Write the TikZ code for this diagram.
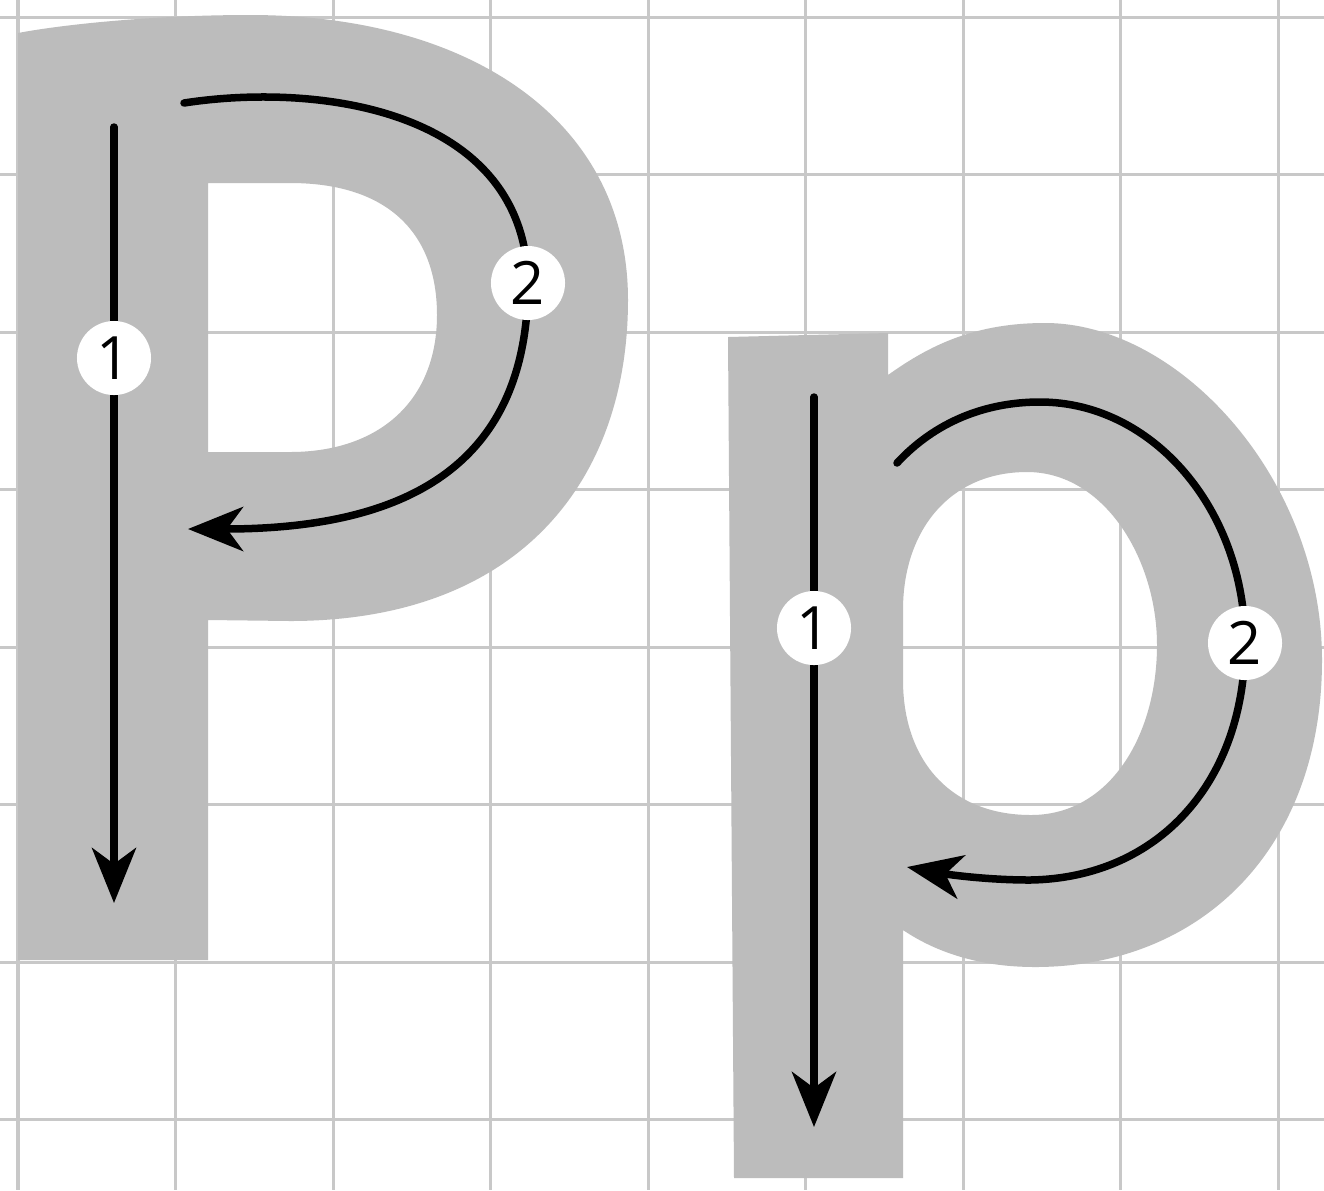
\documentclass[tikz,border=0pt]{standalone}
\usepackage{fontspec}
\setsansfont{Open Sans}
\usetikzlibrary{arrows.meta}
\definecolor{gridc}{RGB}{200,200,200}
\definecolor{letterc}{RGB}{188,188,188}
\begin{document}
\begin{tikzpicture}[x=0.01cm,y=-0.01cm,
  gridline/.style={draw=gridc,line width=0.03cm},
  letter/.style={fill=letterc,even odd rule},
  guide/.style={line width=0.075cm,line cap=round,-{Stealth[length=0.55cm,width=0.44cm,inset=0.16cm]}},
  num/.style={circle,fill=white,minimum size=0.74cm,inner sep=0pt,font=\sffamily\fontsize{17}{17}\selectfont}]
\useasboundingbox (0,0) rectangle (1324,1190);
\fill[white] (0,0) rectangle (1324,1190);
\foreach \i in {0,...,8} \draw[gridline] ({18+157.5*\i},0) -- ({18+157.5*\i},1190);
\foreach \j in {0,...,7} \draw[gridline] (0,{17+157.5*\j}) -- (1324,{17+157.5*\j});
% capital P
\fill[letter] (18,960) -- (18,33) .. controls (60,25) and (150,15) .. (250,15)
  .. controls (470,15) and (628,120) .. (628,300)
  .. controls (628,480) and (520,621) .. (290,621) -- (208,620) -- (208,960) -- cycle
  (208,183) -- (290,183) .. controls (390,183) and (437,235) .. (437,315)
  .. controls (437,400) and (380,452) .. (290,452) -- (208,452) -- cycle;
% small p
\fill[letter] (734,1178) -- (728,337) -- (888,333) -- (888,375)
  .. controls (930,345) and (975,323) .. (1045,323)
  .. controls (1180,323) and (1322,480) .. (1322,660)
  .. controls (1322,850) and (1200,967) .. (1035,967)
  .. controls (985,967) and (940,955) .. (903,930) -- (903,1178) -- cycle
  (1027,472) .. controls (1105,472) and (1157,560) .. (1157,645)
  .. controls (1157,735) and (1110,815) .. (1031,815)
  .. controls (950,815) and (903,760) .. (903,680) -- (903,610)
  .. controls (903,530) and (950,472) .. (1027,472) -- cycle;
% guide strokes
\coordinate (P1s) at (114,127);
\coordinate (P1e) at (114,903);
\coordinate (P2s) at (184,103);
\coordinate (P2m) at (528,283);
\coordinate (P2e) at (188,529);
\coordinate (p1s) at (814,397);
\coordinate (p1e) at (814,1127);
\coordinate (p2s) at (897,463);
\coordinate (p2t) at (1040,402);
\coordinate (p2m) at (1245,643);
\coordinate (p2b) at (1030,880);
\coordinate (p2e) at (907,867);
\draw[guide] (P1s) -- (P1e);
\draw[guide] (P2s) .. controls (320,82) and (525,110) .. (P2m)
  .. controls (528,470) and (400,529) .. (P2e);
\draw[guide] (p1s) -- (p1e);
\draw[guide] (p2s) .. controls (935,422) and (985,402) .. (p2t)
  .. controls (1153,402) and (1245,510) .. (p2m)
  .. controls (1245,780) and (1160,878) .. (p2b)
  .. controls (985,880) and (945,874) .. (p2e);
% numbers
\node[num] (P1) at (114,358) {1};
\node[num] (P2) at (P2m) {2};
\node[num] (p1) at (814,628) {1};
\node[num] (p2) at (p2m) {2};
\end{tikzpicture}
\end{document}
